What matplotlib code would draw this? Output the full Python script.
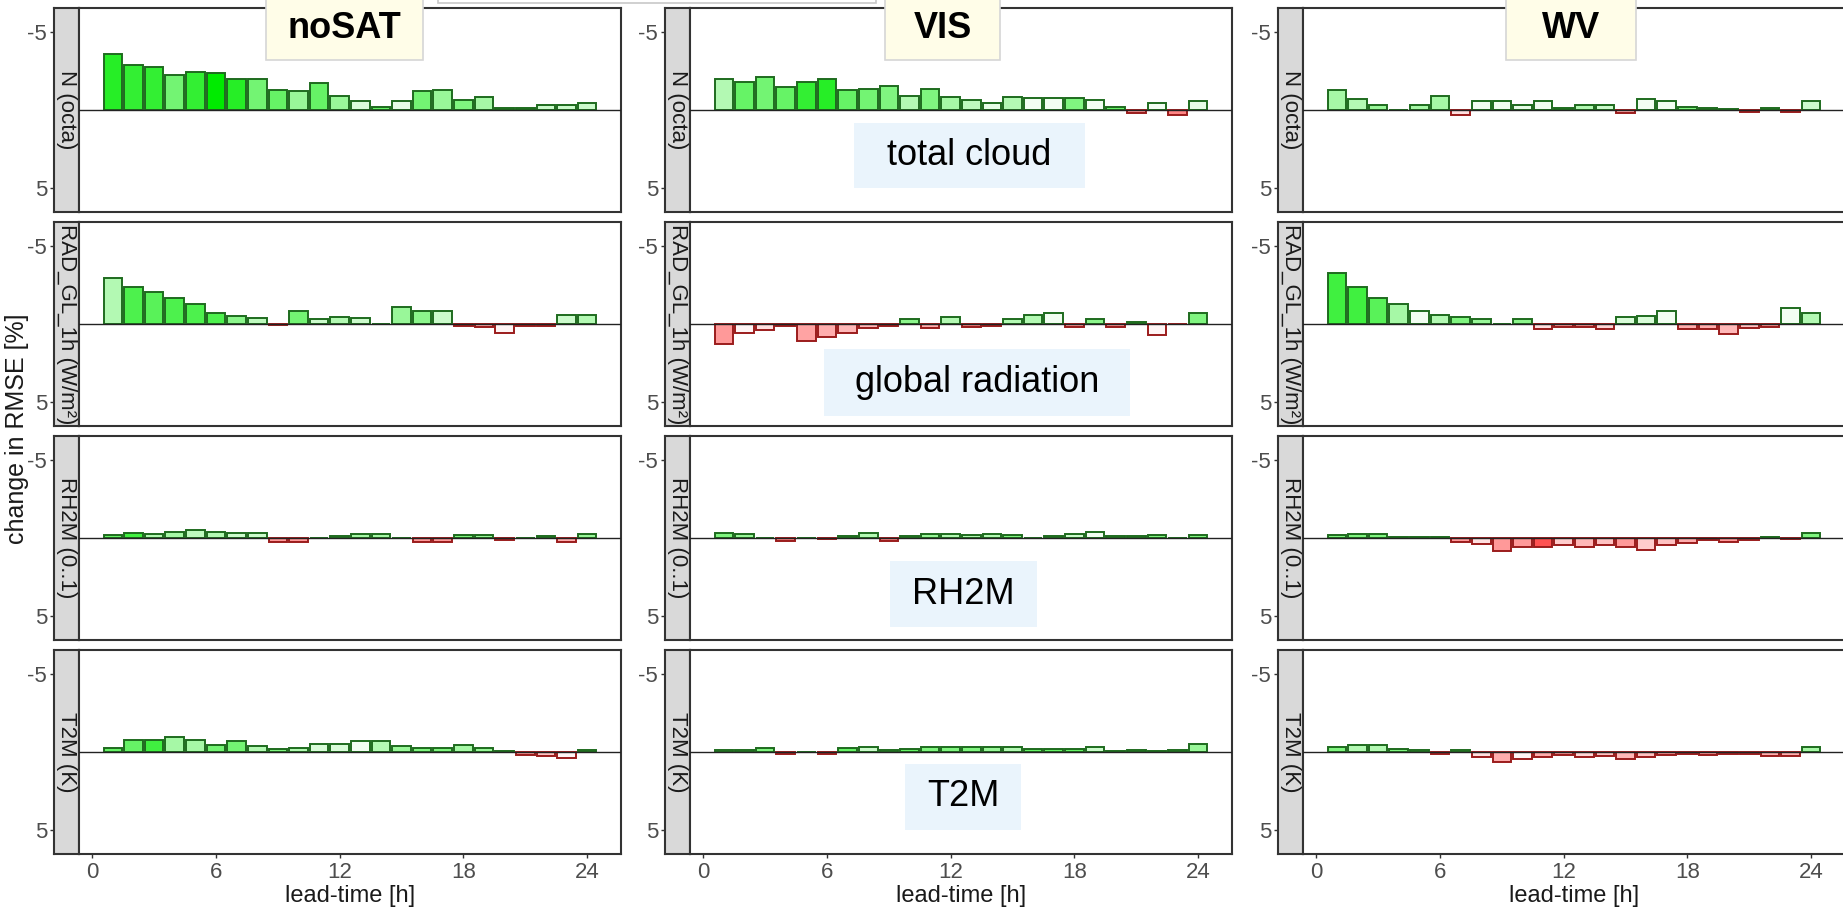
import numpy as np
import matplotlib
matplotlib.use("Agg")
import matplotlib.pyplot as plt
from matplotlib.patches import Rectangle

plt.rcParams['font.family'] = ['Liberation Sans', 'DejaVu Sans']
narrow = ['Liberation Sans Narrow', 'Liberation Sans', 'DejaVu Sans']

# lead times and RMSE change per experiment / variable (negative = improvement)
lead = np.arange(1, 25)

nosat_n = [-3.6, -2.85, -2.75, -2.25, -2.4, -2.35, -1.95, -1.95, -1.3, -1.2, -1.7, -0.9,
           -0.6, -0.2, -0.6, -1.2, -1.3, -0.65, -0.8, -0.15, -0.15, -0.3, -0.3, -0.45]
nosat_n_sig = [0.85, 0.8, 0.8, 0.55, 0.8, 1.0, 0.85, 0.55, 0.6, 0.4, 0.6, 0.4,
               0.15, 0.6, 0.1, 0.55, 0.4, 0.5, 0.35, 0.6, 0.6, 0.2, 0.2, 0.2]
vis_n = [-2.0, -1.8, -2.1, -1.45, -1.8, -2.0, -1.3, -1.35, -1.5, -0.9, -1.35, -0.8,
         -0.65, -0.45, -0.85, -0.75, -0.75, -0.75, -0.65, -0.2, 0.2, -0.45, 0.3, -0.6]
vis_n_sig = [0.3, 0.6, 0.55, 0.6, 0.8, 0.85, 0.6, 0.55, 0.5, 0.3, 0.5, 0.35,
             0.25, 0.1, 0.3, 0.05, 0.05, 0.5, 0.05, 0.6, 0.5, 0.05, 0.6, 0.1]
wv_n = [-1.3, -0.7, -0.35, -0.03, -0.35, -0.9, 0.3, -0.55, -0.55, -0.35, -0.6, -0.15,
        -0.3, -0.3, 0.2, -0.7, -0.55, -0.2, -0.12, -0.04, 0.12, -0.12, 0.12, -0.55]
wv_n_sig = [0.35, 0.3, 0.4, 0.5, 0.35, 0.35, 0.15, 0.05, 0.05, 0.1, 0.05, 0.6,
            0.3, 0.2, 0.4, 0.05, 0.05, 0.5, 0.5, 0.5, 0.5, 0.5, 0.5, 0.2]

nosat_rad = [-2.95, -2.35, -2.05, -1.65, -1.3, -0.7, -0.5, -0.4, 0.05, -0.8, -0.35, -0.45,
             -0.4, -0.03, -1.1, -0.85, -0.8, 0.12, 0.17, 0.55, 0.15, 0.15, -0.6, -0.6]
nosat_rad_sig = [0.3, 0.7, 0.65, 0.7, 0.7, 0.7, 0.45, 0.25, 0.5, 0.55, 0.2, 0.3,
                 0.2, 0.5, 0.4, 0.45, 0.2, 0.6, 0.4, 0.05, 0.6, 0.6, 0.2, 0.3]
vis_rad = [1.3, 0.6, 0.4, 0.1, 1.1, 0.85, 0.6, 0.25, 0.1, -0.3, 0.25, -0.45,
           0.17, 0.1, -0.35, -0.55, -0.7, 0.17, -0.3, 0.17, -0.15, 0.7, 0.0, -0.7]
vis_rad_sig = [0.5, 0.05, 0.15, 0.6, 0.45, 0.4, 0.35, 0.35, 0.6, 0.45, 0.4, 0.3,
               0.6, 0.6, 0.3, 0.3, 0.05, 0.5, 0.45, 0.5, 0.6, 0.05, 0.5, 0.5]
wv_rad = [-3.25, -2.35, -1.65, -1.25, -0.8, -0.6, -0.45, -0.3, -0.03, -0.3, 0.3, 0.17,
          0.17, 0.3, -0.45, -0.5, -0.8, 0.3, 0.3, 0.65, 0.25, 0.17, -1.0, -0.7]
wv_rad_sig = [0.75, 0.75, 0.65, 0.35, 0.05, 0.3, 0.5, 0.4, 0.5, 0.45, 0.15, 0.5,
              0.5, 0.2, 0.15, 0.15, 0.05, 0.4, 0.4, 0.35, 0.3, 0.5, 0.05, 0.3]

nosat_rh = [-0.17, -0.35, -0.25, -0.4, -0.5, -0.4, -0.3, -0.3, 0.25, 0.25, -0.03, -0.1,
            -0.25, -0.25, -0.02, 0.25, 0.25, -0.17, -0.17, 0.12, -0.03, -0.1, 0.25, -0.25]
nosat_rh_sig = [0.6, 0.75, 0.3, 0.35, 0.25, 0.3, 0.2, 0.2, 0.5, 0.5, 0.5, 0.5,
                0.35, 0.35, 0.5, 0.5, 0.5, 0.5, 0.4, 0.5, 0.5, 0.5, 0.4, 0.4]
vis_rh = [-0.35, -0.25, -0.03, 0.17, -0.03, 0.08, -0.12, -0.35, 0.17, -0.12, -0.25, -0.25,
          -0.17, -0.25, -0.17, -0.02, -0.12, -0.25, -0.4, -0.12, -0.12, -0.17, -0.03, -0.17]
vis_rh_sig = [0.5, 0.4, 0.5, 0.6, 0.5, 0.5, 0.5, 0.3, 0.6, 0.5, 0.4, 0.3,
              0.3, 0.3, 0.5, 0.5, 0.5, 0.2, 0.05, 0.5, 0.5, 0.5, 0.5, 0.5]
wv_rh = [-0.17, -0.25, -0.25, -0.05, -0.05, -0.05, 0.25, 0.4, 0.8, 0.6, 0.6, 0.45,
         0.55, 0.45, 0.6, 0.75, 0.45, 0.3, 0.12, 0.25, 0.12, -0.05, 0.08, -0.35]
wv_rh_sig = [0.5, 0.5, 0.5, 0.5, 0.5, 0.5, 0.5, 0.15, 0.5, 0.5, 0.85, 0.25,
             0.35, 0.3, 0.5, 0.25, 0.3, 0.4, 0.5, 0.5, 0.5, 0.5, 0.5, 0.5]

nosat_t2m = [-0.28, -0.75, -0.75, -0.95, -0.75, -0.45, -0.7, -0.4, -0.2, -0.28, -0.5, -0.5,
             -0.7, -0.7, -0.4, -0.28, -0.28, -0.42, -0.28, -0.04, 0.17, 0.25, 0.4, -0.1]
nosat_t2m_sig = [0.6, 0.6, 0.75, 0.35, 0.35, 0.55, 0.55, 0.3, 0.5, 0.3, 0.15, 0.15,
                 0.05, 0.3, 0.4, 0.5, 0.5, 0.35, 0.4, 0.5, 0.5, 0.3, 0.05, 0.5]
vis_t2m = [-0.1, -0.1, -0.25, 0.12, -0.03, 0.12, -0.25, -0.35, -0.1, -0.2, -0.3, -0.3,
           -0.3, -0.3, -0.3, -0.2, -0.2, -0.2, -0.35, -0.04, -0.15, -0.04, -0.15, -0.5]
vis_t2m_sig = [0.5, 0.5, 0.5, 0.5, 0.5, 0.5, 0.6, 0.2, 0.5, 0.6, 0.5, 0.5,
               0.5, 0.4, 0.3, 0.6, 0.6, 0.6, 0.2, 0.5, 0.5, 0.5, 0.5, 0.4]
wv_t2m = [-0.3, -0.45, -0.45, -0.2, -0.1, 0.1, -0.15, 0.3, 0.65, 0.45, 0.3, 0.17,
          0.3, 0.25, 0.42, 0.3, 0.17, 0.1, 0.2, 0.1, 0.1, 0.25, 0.25, -0.35]
wv_t2m_sig = [0.5, 0.3, 0.3, 0.5, 0.5, 0.5, 0.5, 0.15, 0.4, 0.05, 0.4, 0.5,
              0.2, 0.3, 0.35, 0.3, 0.5, 0.5, 0.5, 0.5, 0.5, 0.4, 0.4, 0.35]

experiments = ["noSAT", "VIS", "WV"]
variables = ["N (octa)", "RAD_GL_1h (W/m²)", "RH2M (0..1)", "T2M (K)"]
variable_notes = ["total cloud", "global radiation", "RH2M", "T2M"]

values = [[nosat_n, nosat_rad, nosat_rh, nosat_t2m],
          [vis_n, vis_rad, vis_rh, vis_t2m],
          [wv_n, wv_rad, wv_rh, wv_t2m]]
signif = [[nosat_n_sig, nosat_rad_sig, nosat_rh_sig, nosat_t2m_sig],
          [vis_n_sig, vis_rad_sig, vis_rh_sig, vis_t2m_sig],
          [wv_n_sig, wv_rad_sig, wv_rh_sig, wv_t2m_sig]]

W, H = 1843, 917
GREEN = (0.0, 0.92, 0.0)
RED = (1.0, 0.2, 0.2)


def fill_colour(v, s):
    base = GREEN if v < 0 else RED
    return tuple(1 - s * (1 - c) for c in base)


def px_axes(fig, x0, x1, top, h, **kw):
    return fig.add_axes([x0 / W, 1 - (top + h) / H, (x1 - x0) / W, h / H], **kw)


fig = plt.figure(figsize=(W / 100, H / 100), dpi=100)

col_strip = [54, 665, 1278]
strip_w = 25
panel_w = 542
row_top = [8, 222, 436, 650]
row_h = 204
frame = '#333333'

for c in range(3):
    sx = col_strip[c]
    px0 = sx + strip_w
    for r in range(4):
        sax = px_axes(fig, sx, px0, row_top[r], row_h)
        ax = px_axes(fig, px0, px0 + panel_w, row_top[r], row_h, sharey=sax)

        sax.set_facecolor('#D9D9D9')
        sax.set_xticks([])
        sax.set_ylim(6.5, -6.5)
        sax.set_yticks([-5, 5])
        sax.set_yticklabels(['-5', '5'])
        sax.tick_params(axis='y', length=3, width=1, color=frame, pad=2,
                        labelsize=16, labelcolor='#4D4D4D')
        for lbl in sax.get_yticklabels():
            lbl.set_fontfamily(narrow)
        for sp in sax.spines.values():
            sp.set_color(frame)
            sp.set_linewidth(1.5)
        sax.text(0.5, 0.5, variables[r], transform=sax.transAxes, rotation=-90,
                 ha='center', va='center', fontsize=16, color='#1A1A1A', clip_on=True)

        v = np.array(values[c][r])
        s = signif[c][r]
        fills = [fill_colour(vi, si) for vi, si in zip(v, s)]
        edges = ['#1E6B1E' if vi < 0 else '#9B1C1C' for vi in v]
        ax.bar(lead, v, width=0.9, color=fills, edgecolor=edges, linewidth=1.4, zorder=2)
        ax.axhline(0, color='#222222', linewidth=1.0, zorder=3)

        ax.set_xlim(-0.645, 25.645)
        ax.set_xticks([0, 6, 12, 18, 24])
        ax.tick_params(axis='y', left=False, labelleft=False)
        for sp in ax.spines.values():
            sp.set_color(frame)
            sp.set_linewidth(1.5)
        if r == 3:
            ax.tick_params(axis='x', length=3, width=1, color=frame, pad=3,
                           labelsize=16, labelcolor='#4D4D4D')
            for lbl in ax.get_xticklabels():
                lbl.set_fontfamily(narrow)
            ax.set_xlabel('lead-time [h]', fontsize=17, color='#1A1A1A', labelpad=1,
                          fontfamily=narrow)
        else:
            ax.tick_params(axis='x', bottom=False, labelbottom=False)

fig.text(17 / W, 1 - 429 / H, 'change in RMSE [%]', rotation=90, ha='center',
         va='center', fontsize=18, color='#1A1A1A')

# experiment titles
title_boxes = [(266, 423), (885, 1000), (1506, 1636)]
for name, (x0, x1) in zip(experiments, title_boxes):
    fig.add_artist(Rectangle((x0 / W, 1 - 60 / H), (x1 - x0) / W, 62 / H,
                             transform=fig.transFigure, facecolor='#FFFDE8',
                             edgecolor='#D6D6D6', linewidth=1.2, zorder=5))
    fig.text((x0 + x1) / 2 / W, 1 - 29 / H, name, ha='center', va='center',
             fontsize=26, fontweight='bold', color='black', zorder=6)

# thin frame peeking in at the top edge
fig.add_artist(Rectangle((438 / W, 1 - 3 / H), (876 - 438) / W, 10 / H,
                         transform=fig.transFigure, facecolor='white',
                         edgecolor='#C8C8C8', linewidth=1.2, zorder=4))

# variable notes in the middle column
note_boxes = [(854, 1085, 123, 188), (824, 1130, 349, 416),
              (890, 1037, 561, 627), (905, 1021, 764, 830)]
for note, (x0, x1, y0, y1) in zip(variable_notes, note_boxes):
    fig.add_artist(Rectangle((x0 / W, 1 - y1 / H), (x1 - x0) / W, (y1 - y0) / H,
                             transform=fig.transFigure, facecolor='#EAF4FC',
                             edgecolor='none', zorder=5))
    fig.text((x0 + x1) / 2 / W, 1 - (y0 + y1) / 2 / H, note, ha='center',
             va='center', fontsize=26, color='black', zorder=6)

fig.savefig('out.png', dpi=100)
